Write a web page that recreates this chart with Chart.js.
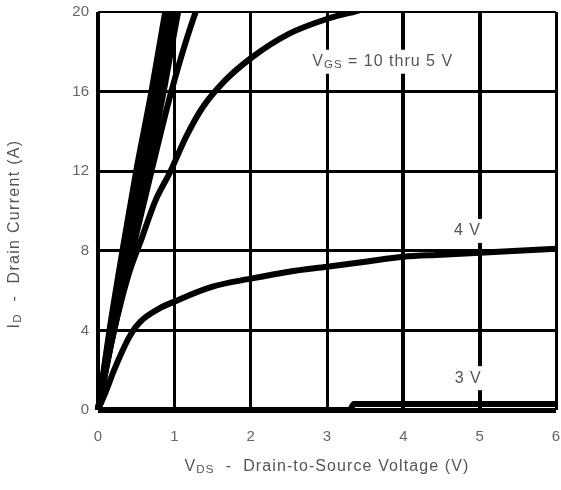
<!DOCTYPE html>
<html>
<head>
<meta charset="utf-8">
<script src="https://cdn.jsdelivr.net/npm/chart.js@4.4.0/dist/chart.umd.min.js"></script>
<style>
  html, body { margin: 0; padding: 0; background: #fff; }
  #wrap { width: 561px; height: 490px; }
</style>
</head>
<body>
<div id="wrap"><canvas id="idChart"></canvas></div>
<script>
// tick values
const vdsTicks = [0, 1, 2, 3, 4, 5, 6];
const idTicks = [0, 4, 8, 12, 16, 20];

// VGS = 10 thru 6 V (steep bundle)
const vds10 = [0, 0.15, 0.32, 0.5, 0.7, 0.88, 0.97];
const id10 = [0, 4, 8, 12, 16, 20, 22];
const vds9 = [0, 0.16, 0.35, 0.55, 0.76, 0.94, 1.03];
const id9 = [0, 4, 8, 12, 16, 20, 22];
const vds8 = [0, 0.17, 0.38, 0.6, 0.8, 0.99, 1.09];
const id8 = [0, 4, 8, 12, 16, 20, 22];
const vds7 = [0, 0.19, 0.41, 0.65, 0.86, 1.05, 1.16];
const id7 = [0, 4, 8, 12, 16, 20, 22];
const vds6 = [0, 0.21, 0.45, 0.7, 0.96, 1.28, 1.45];
const id6 = [0, 4, 8, 12, 16, 20, 21.5];

// VGS = 5 V
const vds5 = [0, 0.2, 0.4, 0.57, 0.75, 0.95, 1.15, 1.37, 1.65, 2.01, 2.5, 3.04, 3.39, 3.8];
const id5 = [0, 3.8, 6.8, 8.6, 10.5, 12, 13.7, 15.2, 16.5, 17.7, 18.9, 19.7, 20.05, 20.5];

// VGS = 4 V
const vds4 = [0, 0.1, 0.2, 0.3, 0.4, 0.5, 0.6, 0.8, 1, 1.5, 2, 2.5, 3, 3.5, 4, 4.5, 5, 5.5, 6];
const id4 = [0, 0.9, 1.9, 2.8, 3.6, 4.2, 4.6, 5.1, 5.45, 6.2, 6.6, 6.95, 7.2, 7.45, 7.7, 7.8, 7.9, 8.0, 8.1];

// VGS = 3 V
const vds3 = [0, 1, 2, 3, 3.3, 3.35, 4, 5, 6];
const id3 = [0, 0, 0, 0, 0, 0.3, 0.3, 0.3, 0.3];

function toPoints(xs, ys) {
    return xs.map((v, i) => ({ x: v, y: ys[i] }));
}

function curve(xs, ys) {
    return {
        data: toPoints(xs, ys),
        borderColor: '#000',
        borderWidth: 6,
        pointRadius: 0,
        cubicInterpolationMode: 'monotone',
        fill: false,
        clip: { left: 5, top: 0, right: 0, bottom: 5 }
    };
}

// draws text with a subscript part, optional white box behind
function drawRich(ctx, parts, cx, cy, size, spacing, box) {
    ctx.save();
    ctx.textBaseline = 'middle';
    ctx.textAlign = 'left';
    ctx.letterSpacing = spacing + 'px';
    let total = 0;
    parts.forEach(p => {
        ctx.font = (p.sub ? size * 0.72 : size) + 'px "Liberation Sans", Arial, sans-serif';
        p.w = ctx.measureText(p.t).width;
        total += p.w;
    });
    let x = cx - total / 2;
    if (box) {
        ctx.fillStyle = '#fff';
        ctx.fillRect(x - 3, cy - size * 0.75, total + 6, size * 1.5);
    }
    ctx.fillStyle = '#555';
    parts.forEach(p => {
        ctx.font = (p.sub ? size * 0.72 : size) + 'px "Liberation Sans", Arial, sans-serif';
        ctx.fillText(p.t, x, p.sub ? cy + size * 0.2 : cy);
        x += p.w;
    });
    ctx.restore();
}

const textPlugin = {
    id: 'textPlugin',
    afterDatasetsDraw(chart) {
        const { ctx, scales: { x, y } } = chart;
        drawRich(ctx, [{ t: 'V' }, { t: 'GS', sub: true }, { t: ' = 10 thru 5 V' }],
            x.getPixelForValue(3.73), y.getPixelForValue(17.5), 16, 1, true);
        drawRich(ctx, [{ t: '4 V' }], x.getPixelForValue(4.84), y.getPixelForValue(9.0), 16, 1, true);
        drawRich(ctx, [{ t: '3 V' }], x.getPixelForValue(4.85), y.getPixelForValue(1.6), 16, 1, true);
    },
    afterDraw(chart) {
        const { ctx } = chart;
        drawRich(ctx, [{ t: 'V' }, { t: 'DS', sub: true }, { t: '  -  Drain-to-Source Voltage (V)' }],
            327, 467, 16, 1.1, false);
        ctx.save();
        ctx.translate(15, 234);
        ctx.rotate(-Math.PI / 2);
        drawRich(ctx, [{ t: 'I' }, { t: 'D', sub: true }, { t: '  -  Drain Current (A)' }],
            0, 0, 16, 1.3, false);
        ctx.restore();
    }
};

const gridWidthX = ctx => (ctx.tick && (ctx.tick.value === 4 || ctx.tick.value === 5)) ? 4 : (ctx.tick && ctx.tick.value === 0 ? 4 : 3);
const gridWidthY = ctx => {
    if (!ctx.tick) return 3;
    if (ctx.tick.value === 20) return 2;
    if (ctx.tick.value === 0) return 5;
    return 3;
};

new Chart(document.getElementById('idChart'), {
    type: 'line',
    data: {
        datasets: [
            curve(vds10, id10),
            curve(vds9, id9),
            curve(vds8, id8),
            curve(vds7, id7),
            curve(vds6, id6),
            curve(vds5, id5),
            curve(vds4, id4),
            curve(vds3, id3)
        ]
    },
    options: {
        responsive: true,
        maintainAspectRatio: false,
        animation: false,
        layout: { padding: { top: 12, right: 5, left: 0, bottom: 0 } },
        plugins: {
            legend: { display: false },
            tooltip: { enabled: false }
        },
        scales: {
            x: {
                type: 'linear',
                min: 0,
                max: 6,
                afterBuildTicks: scale => { scale.ticks = vdsTicks.map(v => ({ value: v })); },
                afterFit: scale => {
                    scale.height = 80;
                    scale.paddingLeft = 0;
                    scale.paddingRight = 0;
                },
                border: { display: false },
                grid: { color: '#000', lineWidth: gridWidthX, drawTicks: false },
                ticks: {
                    color: '#666',
                    padding: 18,
                    font: { family: '"Liberation Sans", Arial, sans-serif', size: 15 }
                }
            },
            y: {
                type: 'linear',
                min: 0,
                max: 20,
                afterBuildTicks: scale => { scale.ticks = idTicks.map(v => ({ value: v })); },
                afterFit: scale => {
                    scale.width = 98;
                    scale.paddingTop = 0;
                    scale.paddingBottom = 0;
                },
                border: { display: false },
                grid: { color: '#000', lineWidth: gridWidthY, drawTicks: false },
                ticks: {
                    color: '#666',
                    padding: 9,
                    font: { family: '"Liberation Sans", Arial, sans-serif', size: 15 }
                }
            }
        }
    },
    plugins: [textPlugin]
});
</script>
</body>
</html>
